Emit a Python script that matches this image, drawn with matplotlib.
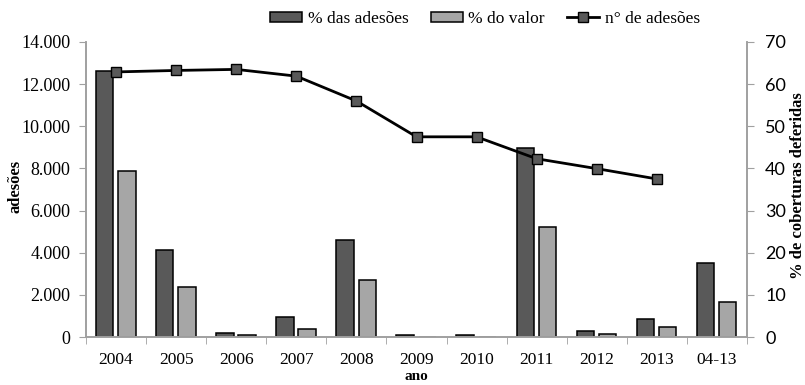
import numpy as np
import matplotlib
matplotlib.use("Agg")
import matplotlib.pyplot as plt
from matplotlib.ticker import FuncFormatter, FixedLocator

plt.rcParams['font.family'] = ['Liberation Serif', 'DejaVu Serif']

anos = ['2004', '2005', '2006', '2007', '2008', '2009', '2010', '2011', '2012', '2013', '04-13']
pct_adesoes = [63.0, 20.6, 1.0, 4.7, 23.1, 0.4, 0.4, 44.9, 1.35, 4.2, 17.5]
pct_valor = [39.4, 11.9, 0.4, 2.0, 13.5, 0.1, 0.1, 26.1, 0.7, 2.3, 8.4]
num_adesoes = [12580, 12650, 12700, 12380, 11200, 9500, 9500, 8460, 7990, 7500]

DARK = '#595959'
LIGHT = '#a6a6a6'
SPINE = '#a0a0a0'

fig = plt.figure(figsize=(8.05, 3.85), dpi=100)
ax = fig.add_axes([86/805, 1 - 337/385, (747 - 86)/805, (337 - 42)/385])
ax2 = ax.twinx()

x = np.arange(len(anos))
w = 0.29
ax2.bar(x - 0.19, pct_adesoes, w, color=DARK, edgecolor='black', linewidth=1.1,
        label='% das adesões', zorder=2)
ax2.bar(x + 0.18, pct_valor, w, color=LIGHT, edgecolor='black', linewidth=1.1,
        label='% do valor', zorder=2)

# line goes on the left axis, drawn above the bars
ax.set_zorder(ax2.get_zorder() + 1)
ax.patch.set_visible(False)
ax.plot(x[:len(num_adesoes)], num_adesoes, color='black', lw=2, marker='s',
        ms=7.5, mfc=DARK, mec='black', mew=1.0, label='n° de adesões')

ax.set_xlim(-0.5, len(anos) - 0.5)
ax.set_ylim(0, 14000)
ax2.set_ylim(0, 70)
ax.set_yticks(np.arange(0, 14001, 2000))
ax.yaxis.set_major_formatter(FuncFormatter(lambda v, p: f"{int(v):,}".replace(',', '.')))
ax2.set_yticks(np.arange(0, 71, 10))

ax.set_xticks(x)
ax.set_xticklabels(anos)
ax.xaxis.set_minor_locator(FixedLocator(np.arange(-0.5, len(anos), 1)))
ax.tick_params(axis='x', which='major', length=0, pad=10.8, labelsize=12.5)
ax.tick_params(axis='x', which='minor', length=5, color=SPINE, direction='out')
ax.tick_params(axis='y', length=5, color=SPINE, labelsize=13, pad=6)
ax2.tick_params(axis='y', length=5, color=SPINE, labelsize=13, pad=8)
for lbl in ax2.get_yticklabels():
    lbl.set_family(['Lato', 'DejaVu Sans'])

for a in (ax, ax2):
    a.spines['top'].set_visible(False)
    for s in ('left', 'right', 'bottom'):
        a.spines[s].set_color(SPINE)
        a.spines[s].set_linewidth(1.2)

ax.set_ylabel('adesões', fontweight='bold', fontsize=12)
ax.yaxis.set_label_coords((23 - 86) / 661, (337 - 186) / 295)
ax2.set_ylabel('% de coberturas deferidas', fontweight='bold', fontsize=12)
ax2.yaxis.set_label_coords((790 - 86) / 661, (337 - 186) / 295)
ax.set_xlabel('ano', fontweight='bold', fontsize=11)
ax.xaxis.set_label_coords(0.5, (337 - 369.5) / 295)

h1, l1 = ax2.get_legend_handles_labels()
h2, l2 = ax.get_legend_handles_labels()
fig.legend(h1 + h2, l1 + l2, loc='center', bbox_to_anchor=(485/805, 1 - 19/385),
           ncol=3, frameon=False, fontsize=12.5, handlelength=1.85, handleheight=0.55,
           columnspacing=1.3, handletextpad=0.3)

fig.savefig('out.png', dpi=100)
